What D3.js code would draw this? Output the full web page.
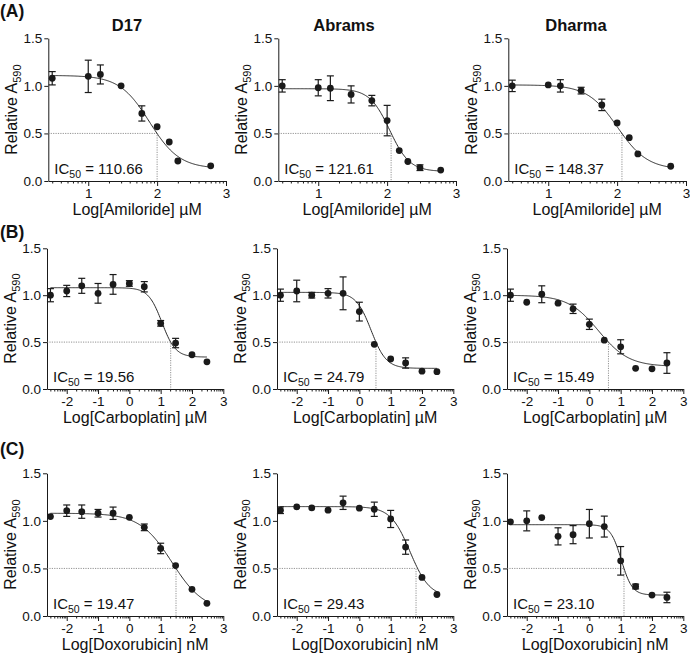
<!DOCTYPE html>
<html><head><meta charset="utf-8">
<script src="https://cdn.jsdelivr.net/npm/d3@7"></script>
<style>
html,body{margin:0;padding:0;background:#fff;}
svg text{font-family:"Liberation Sans",Arial,Helvetica,sans-serif;fill:#111;}
</style></head>
<body>
<svg id="chart" width="690" height="653"></svg>
<script>
// ---------- data (log10 dose, mean relative A590, error) ----------
const rowLabels = ["(A)", "(B)", "(C)"];
const cellLines = ["D17", "Abrams", "Dharma"];
const drugs = ["Amiloride", "Carboplatin", "Doxorubicin"];
const units = ["µM", "µM", "nM"];
const yTicks = [0, 0.5, 1.0, 1.5];
const xTicksA = [1, 2, 3];
const xTicksBC = [-2, -1, 0, 1, 2, 3];

const doseA9 = [0.477, 1, 1.176, 1.477, 1.778, 2, 2.176, 2.301, 2.778];
const doseA10 = [0.477, 1, 1.176, 1.477, 1.778, 2, 2.176, 2.301, 2.477, 2.778];
const doseBC = [-2.52, -2, -1.52, -1, -0.52, 0, 0.477, 1, 1.477, 2, 2.477];

const meanA_D17 = [1.08, 1.10, 1.12, 1.00, 0.71, 0.57, 0.41, 0.21, 0.16];
const errA_D17  = [0.07, 0.17, 0.10, 0, 0.08, 0, 0, 0, 0];
const meanA_Abr = [1.00, 0.98, 0.975, 0.91, 0.845, 0.635, 0.32, 0.205, 0.14, 0.115];
const errA_Abr  = [0.065, 0.085, 0.13, 0.09, 0.055, 0.16, 0, 0, 0.03, 0];
const meanA_Dha = [1.00, 1.01, 1.00, 0.95, 0.80, 0.61, 0.455, 0.285, 0.155];
const errA_Dha  = [0.06, 0, 0.065, 0.035, 0.06, 0, 0, 0, 0];

const meanB_D17 = [1.00, 1.045, 1.10, 1.02, 1.115, 1.125, 1.09, 0.70, 0.49, 0.365, 0.29];
const errB_D17  = [0.07, 0.06, 0.08, 0.105, 0.105, 0.03, 0.055, 0.03, 0.05, 0, 0];
const meanB_Abr = [1.00, 1.045, 1.00, 1.02, 1.02, 0.825, 0.476, 0.32, 0.277, 0.19, 0.185];
const errB_Abr  = [0.065, 0.115, 0.03, 0.05, 0.175, 0.10, 0, 0, 0.055, 0, 0];
const meanB_Dha = [1.00, 0.925, 1.01, 0.915, 0.855, 0.69, 0.52, 0.45, 0.22, 0.215, 0.277];
const errB_Dha  = [0.065, 0, 0.09, 0, 0.05, 0.055, 0, 0.075, 0, 0, 0.11];

const meanC_D17 = [1.045, 1.107, 1.097, 1.08, 1.08, 1.037, 0.932, 0.71, 0.53, 0.28, 0.133];
const errC_D17  = [0, 0.06, 0.07, 0.04, 0.065, 0, 0.035, 0.055, 0, 0, 0];
const meanC_Abr = [1.112, 1.147, 1.137, 1.112, 1.19, 1.133, 1.122, 1.02, 0.724, 0.406, 0.226];
const errC_Abr  = [0.035, 0, 0, 0, 0.07, 0, 0.075, 0.09, 0.075, 0, 0];
const meanC_Dha = [0.99, 1.0, 1.035, 0.837, 0.855, 0.97, 0.94, 0.58, 0.31, 0.22, 0.195];
const errC_Dha  = [0, 0.105, 0, 0.09, 0.095, 0.15, 0.11, 0.15, 0.025, 0, 0.055];

// fitted curve parameters: [top, bottom, logEC50, hill]
const fitParams = [
  [1.11, 0.13, 1.89, 2.0], [0.97, 0.10, 2.037, 3.0], [1.01, 0.12, 2.006, 2.0],
  [1.08, 0.34, 1.04, 2.0], [1.03, 0.22, 0.376, 1.8], [1.00, 0.24, 0.294, 0.9],
  [1.08, 0.05, 1.36, 0.85], [1.15, 0.20, 1.62, 1.4], [0.96, 0.22, 1.02, 2.5]
];
// x position of the dotted IC50 guide
const ic50Guide = [2.0, 2.058, 2.07, 1.32, 0.53, 0.61, 1.49, 1.81, 1.106];
const ic50Text = ["110.66", "121.61", "148.37", "19.56", "24.79", "15.49", "19.47", "29.43", "23.10"];

const panelData = [
  [doseA9, meanA_D17, errA_D17], [doseA10, meanA_Abr, errA_Abr], [doseA9, meanA_Dha, errA_Dha],
  [doseBC, meanB_D17, errB_D17], [doseBC, meanB_Abr, errB_Abr], [doseBC, meanB_Dha, errB_Dha],
  [doseBC, meanC_D17, errC_D17], [doseBC, meanC_Abr, errC_Abr], [doseBC, meanC_Dha, errC_Dha]
];

// ---------- layout ----------
const colX = [0, 230, 460];
const titleX = [127, 344, 576];
const rowLayout = [
  {xDom: [0.42, 3], xR: [48.3, 226], yR: [181, 38.3], label: 16.5, majors: xTicksA},
  {xDom: [-2.63, 3], xR: [47, 223.3], yR: [389, 248.3], label: 237.5, majors: xTicksBC},
  {xDom: [-2.63, 3], xR: [47, 223.3], yR: [616, 473.3], label: 455, majors: xTicksBC}
];

const svg = d3.select("#chart");
const ink = "#1a1a1a";

rowLabels.forEach((lab, r) => {
  svg.append("text").attr("x", 0).attr("y", rowLayout[r].label)
    .attr("font-size", 17.5).attr("font-weight", "bold").text(lab);
});
cellLines.forEach((n, c) => {
  svg.append("text").attr("x", titleX[c]).attr("y", 31).attr("text-anchor", "middle")
    .attr("font-size", 16.5).attr("font-weight", "bold").text(n);
});

for (let r = 0; r < 3; r++) {
  for (let c = 0; c < 3; c++) {
    const L = rowLayout[r];
    const idx = r * 3 + c;
    const g = svg.append("g").attr("transform", `translate(${colX[c]},0)`);
    const x = d3.scaleLinear().domain(L.xDom).range(L.xR);
    const y = d3.scaleLinear().domain([0, 1.5]).range(L.yR);
    const [dose, mean, err] = panelData[idx];
    const [top, bot, lec, hill] = fitParams[idx];

    // minor log ticks
    const minors = [];
    for (let d = Math.floor(L.xDom[0]); d < 3; d++) {
      for (let k = 2; k <= 9; k++) {
        const v = d + Math.log10(k);
        if (v >= L.xDom[0] && v <= L.xDom[1]) minors.push(v);
      }
    }
    g.append("g").attr("transform", `translate(0,${L.yR[0]})`)
      .call(d3.axisBottom(x).tickValues(minors).tickSize(2.5).tickSizeOuter(0).tickFormat(""))
      .call(a => a.select(".domain").remove())
      .selectAll("line").attr("stroke", ink);

    const xa = g.append("g").attr("transform", `translate(0,${L.yR[0]})`)
      .call(d3.axisBottom(x).tickValues(L.majors).tickSize(5).tickSizeOuter(0).tickPadding(2)
        .tickFormat(d => String(d)));
    xa.selectAll("text").attr("font-size", 13.5).attr("font-family", "Liberation Sans, Arial, sans-serif").attr("fill", ink);
    xa.selectAll("line").attr("stroke", ink);
    xa.select(".domain").attr("stroke", ink);

    const ya = g.append("g").attr("transform", `translate(${L.xR[0]},0)`)
      .call(d3.axisLeft(y).tickValues(yTicks).tickSize(4).tickSizeOuter(0).tickPadding(2)
        .tickFormat(d3.format(".1f")));
    ya.selectAll("text").attr("font-size", 13.5).attr("font-family", "Liberation Sans, Arial, sans-serif").attr("fill", ink);
    ya.selectAll("line").attr("stroke", ink);
    ya.select(".domain").attr("stroke", ink);

    // dotted guides
    const gx = ic50Guide[idx];
    g.append("path")
      .attr("d", `M${x(L.xDom[0])},${y(0.5)}H${x(gx)}V${y(0)}`)
      .attr("fill", "none").attr("stroke", "#777").attr("stroke-width", 0.8)
      .attr("stroke-dasharray", "1.2,1.2");

    // fitted curve
    const xs = d3.range(0, 201).map(i => dose[0] + (dose[dose.length - 1] - dose[0]) * i / 200);
    const line = d3.line().x(v => x(v)).y(v => y(bot + (top - bot) / (1 + Math.pow(10, (v - lec) * hill))))
      .curve(d3.curveBasis);
    g.append("path").datum(xs).attr("d", line).attr("fill", "none")
      .attr("stroke", "#2a2a2a").attr("stroke-width", 1);

    // error bars
    const pts = dose.map((d, i) => ({d, m: mean[i], e: err[i]}));
    const eb = g.append("g").attr("stroke", ink).attr("stroke-width", 1.2);
    pts.filter(p => p.e > 0).forEach(p => {
      eb.append("line").attr("x1", x(p.d)).attr("x2", x(p.d)).attr("y1", y(p.m - p.e)).attr("y2", y(p.m + p.e));
      [p.m - p.e, p.m + p.e].forEach(v => {
        eb.append("line").attr("x1", x(p.d) - 3.5).attr("x2", x(p.d) + 3.5).attr("y1", y(v)).attr("y2", y(v));
      });
    });
    g.append("g").selectAll("circle").data(pts).join("circle")
      .attr("cx", p => x(p.d)).attr("cy", p => y(p.m)).attr("r", 3.4).attr("fill", ink);

    // IC50 text
    const t = g.append("text").attr("x", L.xR[0] + 6).attr("y", L.yR[0] - 7).attr("font-size", 15);
    t.append("tspan").text("IC");
    t.append("tspan").attr("font-size", 10.5).attr("dy", 3.5).text("50");
    t.append("tspan").attr("dy", -3.5).text(" = " + ic50Text[idx]);

    // y-axis title
    const ym = (L.yR[0] + L.yR[1]) / 2;
    const yt = g.append("text").attr("transform", `translate(${L.xR[0] - 31},${ym}) rotate(-90)`)
      .attr("text-anchor", "middle").attr("font-size", 16);
    yt.append("tspan").text("Relative A");
    yt.append("tspan").attr("font-size", 11).attr("dy", 4).text("590");

    // x-axis title
    g.append("text").attr("x", (L.xR[0] + L.xR[1]) / 2).attr("y", L.yR[0] + 34)
      .attr("text-anchor", "middle").attr("font-size", 16)
      .text(`Log[${drugs[r]}] ${units[r]}`);
  }
}
</script>
</body></html>
